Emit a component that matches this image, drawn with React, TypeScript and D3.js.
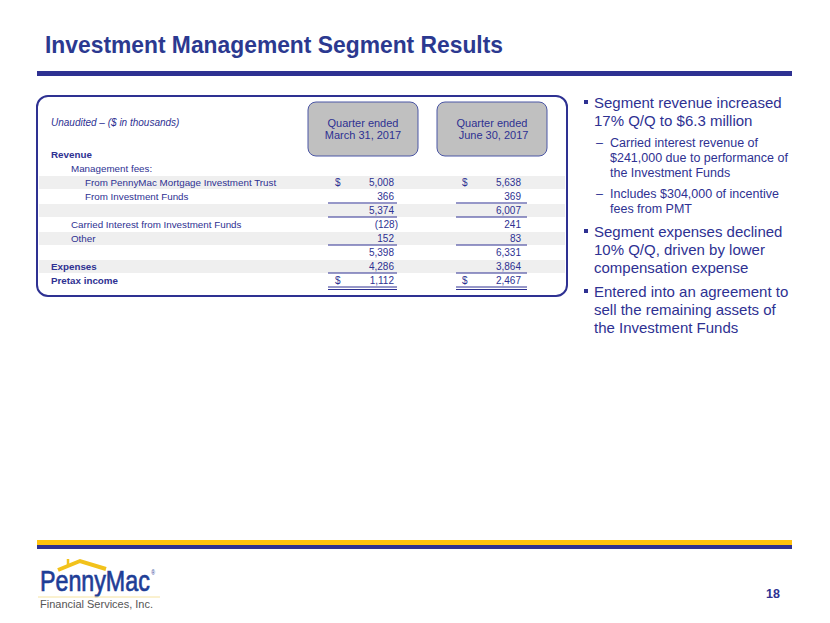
import React from 'react';
import * as d3 from 'd3';

const rowLabels = [
  'Revenue',
  'Management fees:',
  'From PennyMac Mortgage Investment Trust',
  'From Investment Funds',
  '',
  'Carried Interest from Investment Funds',
  'Other',
  '',
  'Expenses',
  'Pretax income',
];
const rowIndent = [0, 1, 2, 2, 2, 1, 1, 1, 0, 0];
const rowBold = [true, false, false, false, false, false, false, false, true, true];
const q1Values = [null, null, 5008, 366, 5374, -128, 152, 5398, 4286, 1112];
const q2Values = [null, null, 5638, 369, 6007, 241, 83, 6331, 3864, 2467];
const dollarRows = [2, 9];
const singleRuleRows = [3, 4, 6, 8];
const doubleRuleRows = [9];
const shadedRows = [2, 4, 6, 8];
const columnHeaders = [
  ['Quarter ended', 'March 31, 2017'],
  ['Quarter ended', ' June 30, 2017'],
];

const bullets = [
  { level: 0, lines: ['Segment revenue increased', '17% Q/Q to $6.3 million'] },
  { level: 1, lines: ['Carried interest revenue of', '$241,000 due to performance of', 'the Investment Funds'] },
  { level: 1, lines: ['Includes $304,000 of incentive', 'fees from PMT'] },
  { level: 0, lines: ['Segment expenses declined', '10% Q/Q, driven by lower', 'compensation expense'] },
  { level: 0, lines: ['Entered into an agreement to', 'sell the remaining assets of', 'the Investment Funds'] },
];

const BLUE = '#2E3192';
const FONT = '"Liberation Sans", Arial, sans-serif';
const NARROW = '"Liberation Sans Narrow", "Liberation Sans", Arial, sans-serif';

const fmt = d3.format(',');
const money = (v: number) => (v < 0 ? `(${fmt(-v)})` : fmt(v));

export default function App() {
  const width = 830;
  const height = 623;

  const y = d3
    .scalePoint<number>()
    .domain(d3.range(rowLabels.length))
    .range([154, 280]);

  const indentX = d3.scaleOrdinal<number, number>().domain([0, 1, 2]).range([51, 71, 85]);

  const cols = [
    { values: q1Values, right: 394, dollar: 335, ruleX1: 328, ruleX2: 397, box: 308 },
    { values: q2Values, right: 521, dollar: 462, ruleX1: 456, ruleX2: 527, box: 437 },
  ];

  // bullet layout
  const bulletLines: { x: number; y: number; text: string; level: number; first: boolean }[] = [];
  let by = 108;
  bullets.forEach((b, i) => {
    if (i > 0) by += b.level === 0 ? 24 : 21;
    b.lines.forEach((t, j) => {
      if (j > 0) by += b.level === 0 ? 18 : 15;
      bulletLines.push({ x: b.level === 0 ? 594 : 610, y: by, text: t, level: b.level, first: j === 0 });
    });
  });

  return (
    <svg
      width={width}
      height={height}
      style={{ position: 'absolute', left: 0, top: 0, background: '#fff' }}
      fontFamily={FONT}
    >
      {/* title */}
      <text
        x={45}
        y={53}
        fontSize={24}
        fontWeight="bold"
        fill="#2B3990"
        fontFamily={NARROW}
        textLength={458}
        lengthAdjust="spacingAndGlyphs"
      >
        Investment Management Segment Results
      </text>
      <rect x={37} y={71} width={755} height={5} fill="#2E3192" />

      {/* table frame */}
      <rect x={37} y={96} width={530} height={200} rx={11} fill="#fff" stroke={BLUE} strokeWidth={2} />

      {shadedRows.map((r) => (
        <rect key={`s${r}`} x={39} y={y(r)! - 6} width={526} height={13} fill="#EFEFEF" />
      ))}

      {cols.map((c, ci) => (
        <g key={`h${ci}`}>
          <rect x={c.box} y={102} width={110} height={54} rx={8} fill="#C0C0C0" stroke="#4B56A5" strokeWidth={1} />
          {columnHeaders[ci].map((t, li) => (
            <text
              key={li}
              x={c.box + 55}
              y={127 + li * 12}
              fontSize={11}
              fill={BLUE}
              textAnchor="middle"
              style={{ whiteSpace: 'pre' }}
            >
              {t}
            </text>
          ))}
        </g>
      ))}

      <text x={51} y={126} fontSize={10} fontStyle="italic" fill={BLUE}>
        Unaudited – ($ in thousands)
      </text>

      {rowLabels.map((label, i) => (
        <text
          key={`l${i}`}
          x={indentX(rowIndent[i])}
          y={y(i)! + 3.5}
          fontSize={9.8}
          fontWeight={rowBold[i] ? 'bold' : 'normal'}
          fill={BLUE}
        >
          {label}
        </text>
      ))}

      {cols.map((c, ci) => (
        <g key={`c${ci}`}>
          {c.values.map((v, i) =>
            v === null ? null : (
              <text
                key={i}
                x={v < 0 ? c.right + 4 : c.right}
                y={y(i)! + 3.5}
                fontSize={10}
                fill={BLUE}
                textAnchor="end"
              >
                {money(v)}
              </text>
            )
          )}
          {dollarRows.map((r) => (
            <text key={`d${r}`} x={c.dollar} y={y(r)! + 3.5} fontSize={10} fill={BLUE}>
              $
            </text>
          ))}
          {singleRuleRows.map((r) => (
            <line key={`u${r}`} x1={c.ruleX1} x2={c.ruleX2} y1={y(r)! + 7} y2={y(r)! + 7} stroke={BLUE} strokeWidth={1} />
          ))}
          {doubleRuleRows.map((r) => (
            <g key={`dd${r}`}>
              <line x1={c.ruleX1} x2={c.ruleX2} y1={y(r)! + 7} y2={y(r)! + 7} stroke={BLUE} strokeWidth={1} />
              <line x1={c.ruleX1} x2={c.ruleX2} y1={y(r)! + 9.5} y2={y(r)! + 9.5} stroke={BLUE} strokeWidth={1} />
            </g>
          ))}
        </g>
      ))}

      {/* bullets */}
      {bulletLines.map((l, i) => (
        <g key={`b${i}`}>
          {l.first && l.level === 0 && <rect x={584} y={l.y - 8} width={4} height={4} fill={BLUE} />}
          {l.first && l.level === 1 && (
            <text x={596} y={l.y} fontSize={12.5} fill={BLUE}>
              –
            </text>
          )}
          <text x={l.x} y={l.y} fontSize={l.level === 0 ? 15 : 12.5} fill={BLUE}>
            {l.text}
          </text>
        </g>
      ))}

      {/* footer rules */}
      <rect x={37} y={540} width={755} height={5} fill="#FFC20E" />
      <rect x={37} y={545} width={755} height={4} fill="#2E3192" />

      {/* logo */}
      <polyline points="58,570 80,561 106,569" fill="none" stroke="#F2C21B" strokeWidth={4} strokeLinejoin="miter" />
      <line x1={68} x2={68} y1={559} y2={566} stroke="#F2C21B" strokeWidth={2.5} />
      <text
        transform="translate(40,591) scale(0.93,1.15)"
        fontSize={25}
        fill="#1E3D96"
        fontFamily={NARROW}
      >
        <tspan stroke="#1E3D96" strokeWidth={0.6}>PennyMac</tspan>
        <tspan fontSize={5.5} dx={1.5} dy={-14}>®</tspan>
      </text>
      <line x1={38} x2={160} y1={597} y2={597} stroke="#F6E3A0" strokeWidth={1} />
      <text
        x={40}
        y={608}
        fontSize={11.5}
        fill="#555"
        fontFamily={NARROW}
        textLength={113}
        lengthAdjust="spacingAndGlyphs"
      >
        Financial Services, Inc.
      </text>

      <text x={766} y={598} fontSize={12.5} fontWeight="bold" fill={BLUE}>
        18
      </text>
    </svg>
  );
}
